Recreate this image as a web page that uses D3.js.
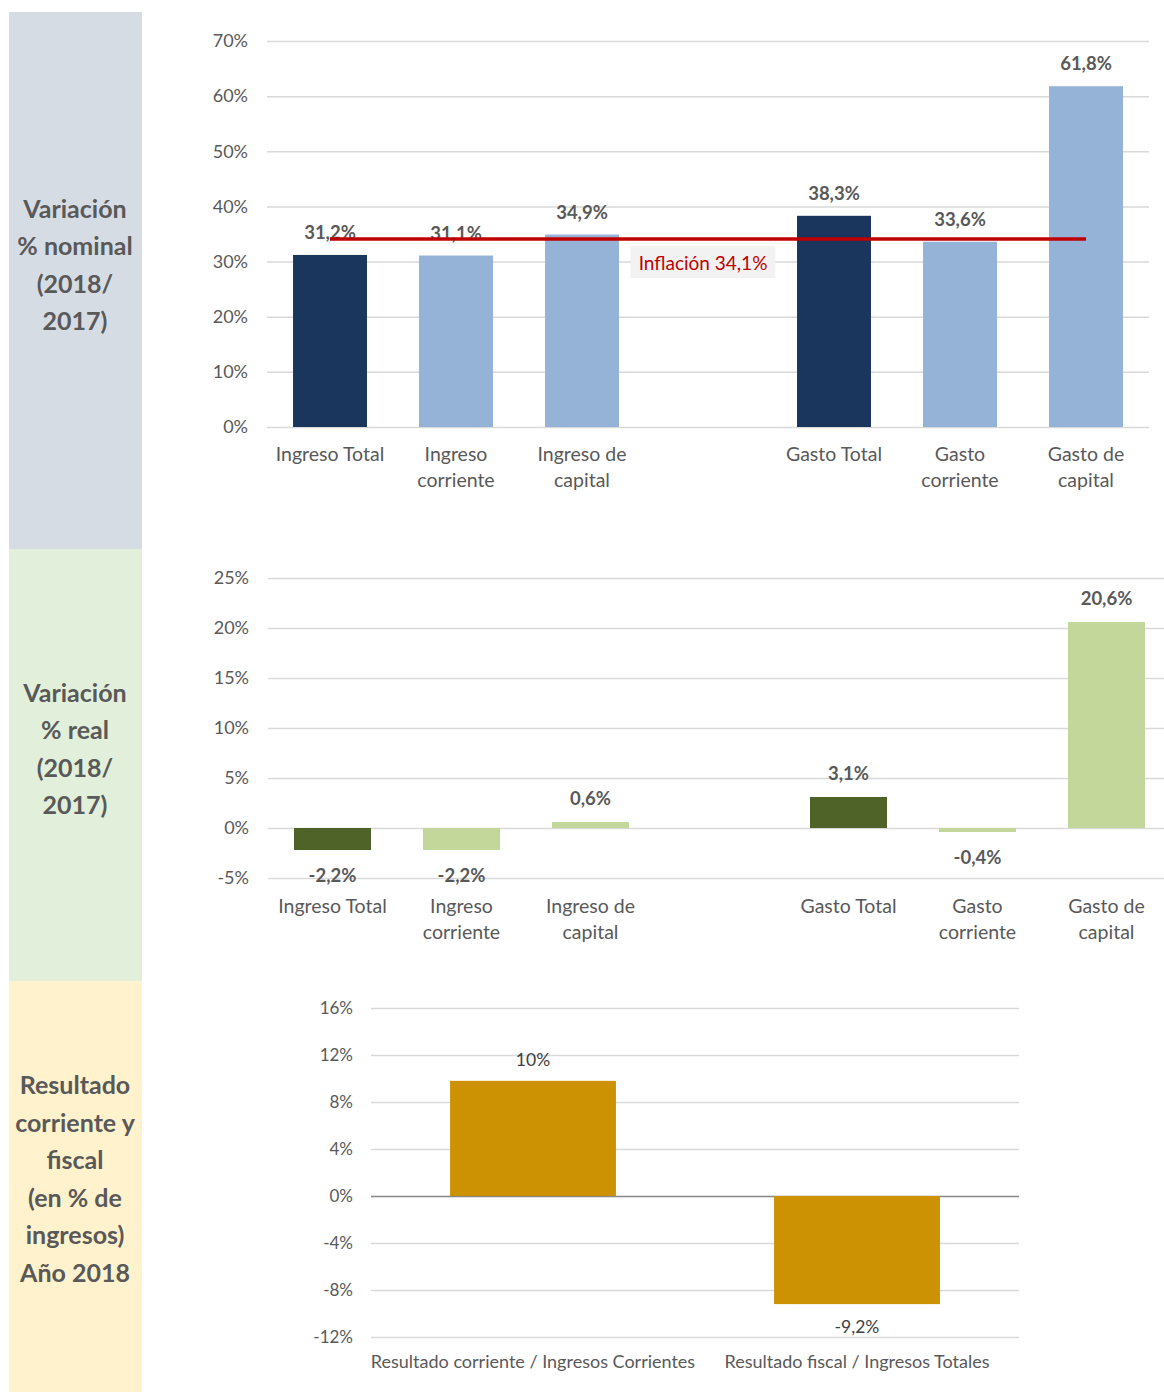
<!DOCTYPE html>
<html>
<head>
<meta charset="utf-8">
<script src="https://cdn.jsdelivr.net/npm/d3@7"></script>
<style>
  body { margin: 0; background: #fff; }
  svg { display: block; font-family: Lato, "Open Sans", sans-serif; }
</style>
</head>
<body>
<svg id="canvas" width="1164" height="1392"></svg>
<script>
// categories (blank key = empty slot between ingresos and gastos)
var varKeys = ['it', 'ic', 'ik', 'gap', 'gt', 'gc', 'gk'];
var varLines = [['Ingreso Total'], ['Ingreso', 'corriente'], ['Ingreso de', 'capital'], [],
                ['Gasto Total'], ['Gasto', 'corriente'], ['Gasto de', 'capital']];
var varDark = [true, false, false, false, true, false, false];

// % nominal 2018/2017
var nominalValues = [31.2, 31.1, 34.9, null, 38.3, 33.6, 61.8];
var nominalLabels = ['31,2%', '31,1%', '34,9%', '', '38,3%', '33,6%', '61,8%'];
var nominalTicks = [0, 10, 20, 30, 40, 50, 60, 70];
var inflation = 34.1;
var inflationLabel = 'Inflación 34,1%';

// % real 2018/2017
var realValues = [-2.2, -2.2, 0.6, null, 3.1, -0.4, 20.6];
var realLabels = ['-2,2%', '-2,2%', '0,6%', '', '3,1%', '-0,4%', '20,6%'];
var realTicks = [-5, 0, 5, 10, 15, 20, 25];

// resultado corriente y fiscal
var resKeys = ['corr', 'fisc'];
var resLines = [['Resultado corriente / Ingresos Corrientes'], ['Resultado fiscal / Ingresos Totales']];
var resValues = [9.8, -9.2];
var resLabels = ['10%', '-9,2%'];
var resTicks = [-12, -8, -4, 0, 4, 8, 12, 16];

// side panels
var panelTitles = [
    ['Variación', '% nominal', '(2018/', '2017)'],
    ['Variación', '% real', '(2018/', '2017)'],
    ['Resultado', 'corriente y', 'fiscal', '(en % de', 'ingresos)', 'Año 2018']
];

var TEXT = '#595959';
var svg = d3.select('#canvas');

// ---- side panels
var panels = [
    {y0: 12, y1: 549, fill: '#d6dce4', cy: 265},
    {y0: 549, y1: 981, fill: '#e2efda', cy: 749},
    {y0: 981, y1: 1392, fill: '#fff2cc', cy: 1179}
];
panels.forEach(function(p, i) {
    svg.append('rect')
        .attr('x', 9).attr('y', p.y0)
        .attr('width', 133).attr('height', p.y1 - p.y0)
        .attr('fill', p.fill);
    var lines = panelTitles[i],
        lh = 37.5,
        top = p.cy - (lines.length - 1) * lh / 2;
    svg.append('text')
        .attr('text-anchor', 'middle')
        .attr('font-size', 25).attr('font-weight', 700)
        .attr('fill', TEXT)
        .selectAll('tspan').data(lines).enter().append('tspan')
            .attr('x', 75)
            .attr('y', function(d, j) { return top + j * lh + 9; })
            .text(function(d) { return d; });
});

// ---- generic bar chart
function barChart(o) {
    var g = svg.append('g');
    var x = d3.scaleBand().domain(o.keys).range(o.xRange);
    var y = d3.scaleLinear().domain(o.yDomain).range(o.yRange);
    var barW = x.bandwidth() * o.barRatio;

    var axis = d3.axisLeft(y)
        .tickValues(o.ticks)
        .tickSize(-(o.gridEnd - o.xRange[0]))
        .tickPadding(o.tickPad)
        .tickFormat(function(d) { return d + '%'; });
    var ax = g.append('g')
        .attr('transform', 'translate(' + o.xRange[0] + ',0)')
        .call(axis);
    ax.select('.domain').remove();
    ax.selectAll('line')
        .attr('stroke', function(d) { return (d === 0 && o.zeroDark) ? '#868686' : '#d9d9d9'; })
        .attr('stroke-width', 1.5);
    ax.selectAll('text')
        .attr('fill', TEXT)
        .attr('font-size', o.tickSize)
        .attr('font-family', 'Lato, sans-serif');

    var data = o.keys.map(function(k, i) {
        return {key: k, v: o.values[i], label: o.labels[i], lines: o.lines[i], color: o.color(i)};
    }).filter(function(d) { return d.v !== null; });

    g.selectAll('.bar').data(data).enter().append('rect')
        .attr('class', 'bar')
        .attr('x', function(d) { return x(d.key) + (x.bandwidth() - barW) / 2; })
        .attr('width', barW)
        .attr('y', function(d) { return y(Math.max(0, d.v)); })
        .attr('height', function(d) { return Math.abs(y(d.v) - y(0)); })
        .attr('fill', function(d) { return d.color; });

    g.selectAll('.val').data(data).enter().append('text')
        .attr('class', 'val')
        .attr('text-anchor', 'middle')
        .attr('font-size', o.valSize)
        .attr('font-weight', o.valWeight)
        .attr('fill', o.valColor)
        .attr('x', function(d) { return x(d.key) + x.bandwidth() / 2; })
        .attr('y', function(d) { return d.v >= 0 ? y(d.v) - o.valAbove : y(d.v) + o.valBelow; })
        .text(function(d) { return d.label; });

    g.selectAll('.cat').data(data).enter().append('text')
        .attr('class', 'cat')
        .attr('text-anchor', 'middle')
        .attr('font-size', o.catSize)
        .attr('fill', TEXT)
        .each(function(d) {
            d3.select(this).selectAll('tspan').data(d.lines).enter().append('tspan')
                .attr('x', x(d.key) + x.bandwidth() / 2)
                .attr('y', function(t, j) { return o.catY + j * 26; })
                .text(function(t) { return t; });
        });

    return {g: g, x: x, y: y};
}

// ---- chart 1: nominal
var c1 = barChart({
    keys: varKeys, lines: varLines, values: nominalValues, labels: nominalLabels,
    ticks: nominalTicks, yDomain: [0, 70], yRange: [427, 41],
    xRange: [267, 1149], gridEnd: 1149, barRatio: 0.587, tickPad: 19,
    tickSize: 18, catSize: 19.5, catY: 461,
    valSize: 18.5, valWeight: 700, valColor: TEXT, valAbove: 16, valBelow: 28,
    color: function(i) { return varDark[i] ? '#1b365d' : '#95b3d7'; }
});

// inflation line
var infY = c1.y(inflation),
    xStart = c1.x('it') + c1.x.bandwidth() / 2,
    xEnd = c1.x('gk') + c1.x.bandwidth() / 2;
c1.g.append('line')
    .attr('x1', xStart).attr('x2', xEnd)
    .attr('y1', infY).attr('y2', infY)
    .attr('stroke', '#c00000').attr('stroke-width', 3.5);
var infBox = c1.g.append('rect').attr('fill', '#f2f2f2');
var infText = c1.g.append('text')
    .attr('text-anchor', 'middle')
    .attr('x', c1.x('gap') + c1.x.bandwidth() / 2 - 5)
    .attr('y', infY + 31)
    .attr('font-size', 19)
    .attr('fill', '#c00000')
    .text(inflationLabel);
var bb = infText.node().getBBox();
infBox.attr('x', bb.x - 8).attr('y', infY + 7)
    .attr('width', bb.width + 16).attr('height', 32);

// ---- chart 2: real
barChart({
    keys: varKeys, lines: varLines, values: realValues, labels: realLabels,
    ticks: realTicks, yDomain: [-5, 25], yRange: [878, 578],
    xRange: [268, 1171], gridEnd: 1171, barRatio: 0.597, tickPad: 19,
    tickSize: 18, catSize: 19.5, catY: 913,
    valSize: 18.5, valWeight: 700, valColor: TEXT, valAbove: 17, valBelow: 32,
    color: function(i) { return varDark[i] ? '#4f6228' : '#c4d79b'; }
});

// ---- chart 3: resultado
barChart({
    keys: resKeys, lines: resLines, values: resValues, labels: resLabels,
    ticks: resTicks, yDomain: [-12, 16], yRange: [1337, 1008],
    xRange: [371, 1019], gridEnd: 1019, barRatio: 0.512, tickPad: 18,
    tickSize: 17, catSize: 18, catY: 1368, zeroDark: true,
    valSize: 17.5, valWeight: 400, valColor: '#404040', valAbove: 15, valBelow: 29,
    color: function() { return '#cc9204'; }
});
</script>
</body>
</html>
